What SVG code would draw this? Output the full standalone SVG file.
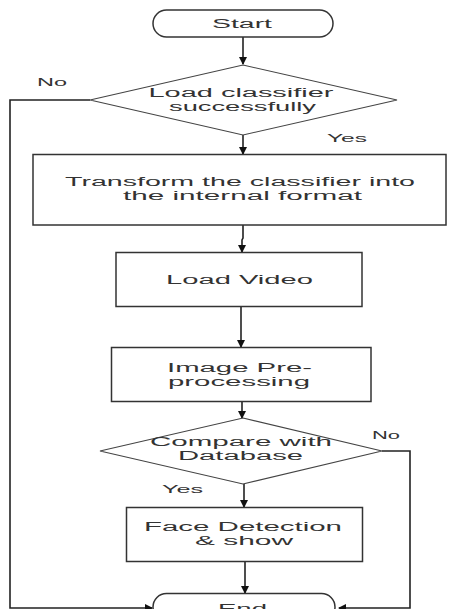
<svg xmlns="http://www.w3.org/2000/svg" width="451" height="609" viewBox="0 0 451 609">
<style>
.shape{fill:#fff;stroke:#333;stroke-width:1.5}
.dia{fill:#fff;stroke:#444;stroke-width:1.1}
.line{fill:none;stroke:#222;stroke-width:1.6}
text{font-family:"Liberation Sans",Arial,sans-serif;font-size:12px;fill:#333;text-anchor:middle}
.lbl{font-size:11px}
</style>
<defs>
<marker id="arr" markerWidth="8" markerHeight="8" refX="7" refY="4" orient="auto" markerUnits="userSpaceOnUse">
<path d="M0,0 L8,4 L0,8 z" fill="#111"/>
</marker>
</defs>
<rect width="451" height="609" fill="#fff"/>
<g id="connectors">
<line class="line" x1="243" y1="37" x2="243" y2="64" marker-end="url(#arr)"/>
<line class="line" x1="243" y1="135" x2="243" y2="154" marker-end="url(#arr)"/>
<polyline class="line" points="243,225 243,238 242,240 242,252" marker-end="url(#arr)"/>
<line class="line" x1="241" y1="307" x2="241" y2="347" marker-end="url(#arr)"/>
<line class="line" x1="242" y1="402" x2="242" y2="418" marker-end="url(#arr)"/>
<line class="line" x1="244" y1="484" x2="244" y2="507" marker-end="url(#arr)"/>
<line class="line" x1="245" y1="562" x2="245" y2="593" marker-end="url(#arr)"/>
<polyline class="line" points="90,100 10,100 10,608 152,608" marker-end="url(#arr)"/>
<polyline class="line" points="382,451 410,451 410,608 339,608" marker-end="url(#arr)"/>
</g>
<g id="start">
<rect class="shape" x="153" y="10" width="180" height="27" rx="13.5"/>
<text x="242" y="28" textLength="60" lengthAdjust="spacingAndGlyphs">Start</text>
</g>
<g id="load-classifier">
<polygon class="dia" points="243,65 397,100 243,135 90,100"/>
<text x="241" y="96.5" textLength="185" lengthAdjust="spacingAndGlyphs">Load classifier</text>
<text x="242.5" y="111" textLength="147" lengthAdjust="spacingAndGlyphs">successfully</text>
</g>
<g id="label-no-1"><text class="lbl" x="52" y="86" textLength="30" lengthAdjust="spacingAndGlyphs">No</text></g>
<g id="label-yes-1"><text class="lbl" x="347" y="142" textLength="40" lengthAdjust="spacingAndGlyphs">Yes</text></g>
<g id="transform">
<rect class="shape" x="33" y="154.5" width="413" height="70.5"/>
<text x="240" y="185.5" textLength="350" lengthAdjust="spacingAndGlyphs">Transform the classifier into</text>
<text x="242.5" y="199.5" textLength="239" lengthAdjust="spacingAndGlyphs">the internal format</text>
</g>
<g id="load-video">
<rect class="shape" x="116" y="252.5" width="246" height="54"/>
<text x="239.5" y="283.5" textLength="147" lengthAdjust="spacingAndGlyphs">Load Video</text>
</g>
<g id="preprocessing">
<rect class="shape" x="111.5" y="347.5" width="259.5" height="54"/>
<text x="239.5" y="371.5" textLength="145" lengthAdjust="spacingAndGlyphs">Image Pre-</text>
<text x="239" y="385.5" textLength="142" lengthAdjust="spacingAndGlyphs">processing</text>
</g>
<g id="compare">
<polygon class="dia" points="243,418 382,451 243,484 100,451"/>
<text x="241" y="446" textLength="182" lengthAdjust="spacingAndGlyphs">Compare with</text>
<text x="240.5" y="460" textLength="125" lengthAdjust="spacingAndGlyphs">Database</text>
</g>
<g id="label-no-2"><text class="lbl" x="386" y="438.5" textLength="28" lengthAdjust="spacingAndGlyphs">No</text></g>
<g id="label-yes-2"><text class="lbl" x="182.5" y="493" textLength="41" lengthAdjust="spacingAndGlyphs">Yes</text></g>
<g id="face-detection">
<rect class="shape" x="126.5" y="507.5" width="236" height="54"/>
<text x="243" y="531" textLength="198" lengthAdjust="spacingAndGlyphs">Face Detection</text>
<text x="244" y="545" textLength="98" lengthAdjust="spacingAndGlyphs">&amp; show</text>
</g>
<g id="end">
<rect class="shape" x="153" y="593.5" width="182" height="27" rx="13.5"/>
<text x="242.5" y="613" textLength="49" lengthAdjust="spacingAndGlyphs">End</text>
</g>
</svg>
